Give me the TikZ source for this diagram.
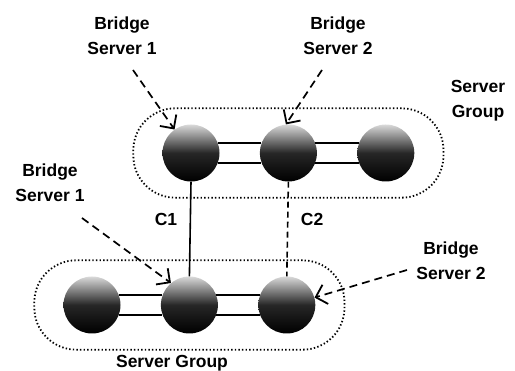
\documentclass[tikz,border=0pt]{standalone}
\usepackage{fontspec}
\setmainfont{Liberation Sans}
\usepackage{tikz}
\usetikzlibrary{arrows.meta, positioning, fit}
\tikzset{
  ball/.style={circle, minimum size=57pt, inner sep=0pt, top color=black!15, bottom color=black, middle color=black!85},
  grp/.style={draw, line width=1.8pt, dash pattern=on 1.4pt off 2.2pt, rounded corners=42pt, inner xsep=29pt, inner ysep=16pt},
  pointer/.style={->, line width=1.7pt, dash pattern=on 8pt off 5pt},
  lbl/.style={align=center, font=\fontsize{17.5}{25}\selectfont\bfseries}
}

\begin{document}
\begin{tikzpicture}[x=1pt, y=-1pt, >={Straight Barb[length=10pt, width=20pt, line width=1.8pt]}, node distance=40pt]
\useasboundingbox (0,0) rectangle (515,371);
% upper group
\node[ball] (t1) at (191,153) {};
\node[ball, right=of t1] (t2) {};
\node[ball, right=of t2] (t3) {};
% lower group
\node[ball] (b1) at (92,305) {};
\node[ball, right=of b1] (b2) {};
\node[ball, right=of b2] (b3) {};
\draw[line width=1.8pt] (t1.20) -- (t2.160) (t1.-20) -- (t2.-160);
\draw[line width=1.8pt] (t2.20) -- (t3.160) (t2.-20) -- (t3.-160);
\draw[line width=1.8pt] (b1.20) -- (b2.160) (b1.-20) -- (b2.-160);
\draw[line width=1.8pt] (b2.20) -- (b3.160) (b2.-20) -- (b3.-160);
\node[grp, fit=(t1)(t3)] (g1) {};
\node[grp, fit=(b1)(b3)] (g2) {};
% connections
\draw[line width=1.6pt] (t1.south) -- (b2.north) node[lbl, pos=0.4, left=9pt] (c1) {C1};
\draw[line width=1.6pt, dash pattern=on 6pt off 4pt] (t2.south) -- (b3.north) node[lbl, pos=0.4, right=9pt] (c2) {C2};
% labels
\node[lbl] (bs1) at (122,36) {Bridge\\Server 1};
\node[lbl] (bs2) at (338,36) {Bridge\\Server 2};
\node[lbl] (sg1) at (478,101) {Server\\Group};
\node[lbl] (bs3) at (50,183) {Bridge\\Server 1};
\node[lbl] (bs4) at (451,261) {Bridge\\Server 2};
\node[lbl] (sg2) at (172,363) {Server Group};
\coordinate (p1) at (133,70);
\coordinate (p2) at (322,70);
\coordinate (p3) at (82,218);
\coordinate (p4) at (407,270);
\draw[pointer] (p1) -- (t1.125);
\draw[pointer] (p2) -- (t2.95);
\draw[pointer] (p3) -- (b2.130);
\draw[pointer] (p4) -- (b3.15);
\end{tikzpicture}
\end{document}
